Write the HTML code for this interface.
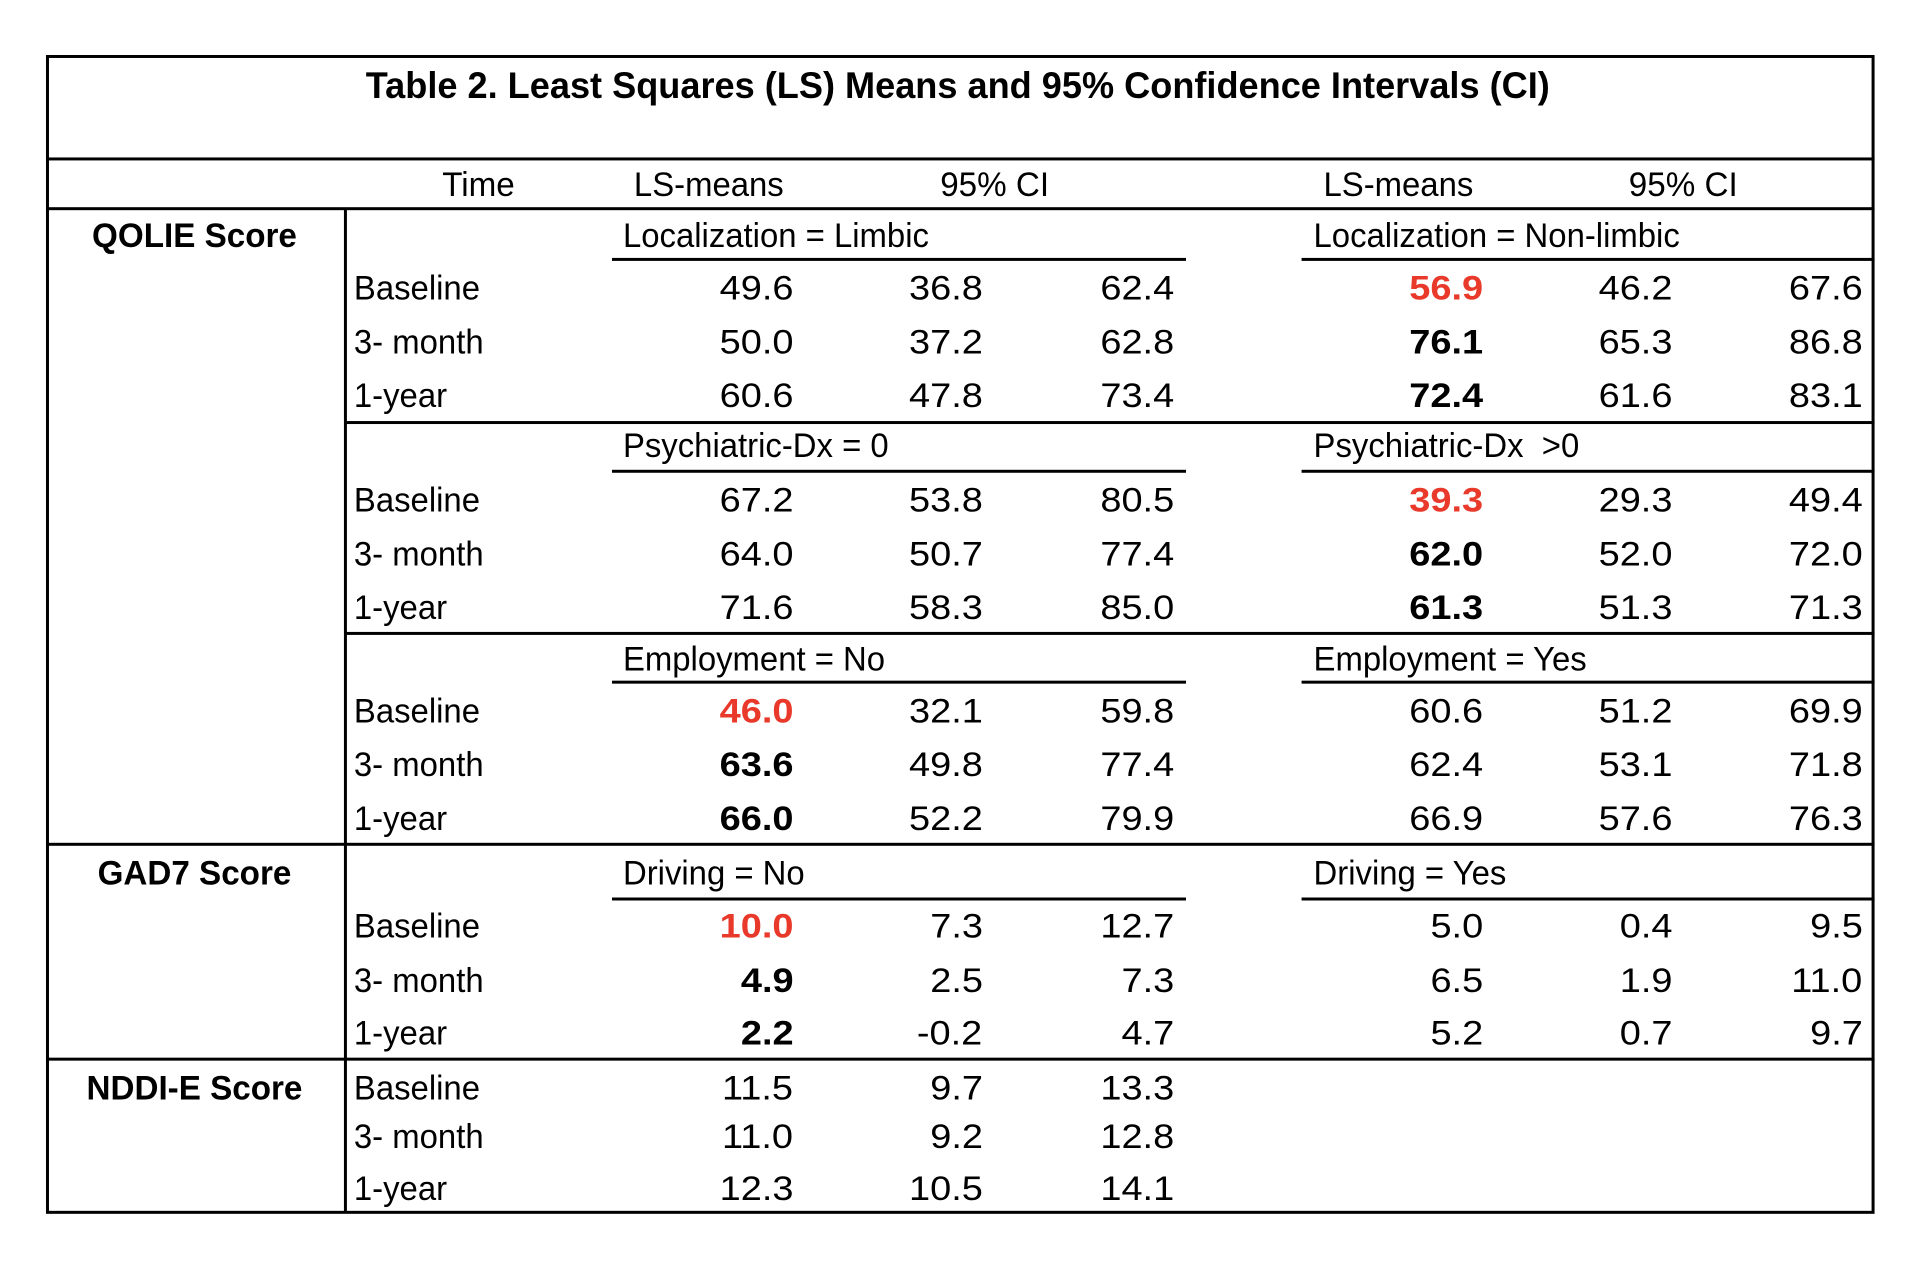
<!DOCTYPE html>
<html><head><meta charset="utf-8"><style>
body{margin:0;width:1922px;height:1266px;background:#fff;position:relative;overflow:hidden;font-family:"Liberation Sans",sans-serif;color:#000}
#w{position:absolute;left:0;top:0;width:1922px;height:1266px;transform:scale(.9965,.9947);transform-origin:42px 55px}
.h{position:absolute;height:3px;background:#000}
.v{position:absolute;width:3px;background:#000}
.t{position:absolute;height:40px;line-height:40px;font-size:34px;white-space:nowrap}
.l{transform:scaleX(.97);transform-origin:left center}
.r{text-align:right;transform:scaleX(1.12);transform-origin:right center}
.c{transform:translateX(-50%) scaleX(.98)}
.b{font-weight:bold}
.red{color:#e8392a;font-weight:bold}
</style></head><body><div id="w">
<div style="position:absolute;left:46px;top:55px;width:1829px;height:1159px;border:3px solid #000"></div>
<div class="h" style="left:46px;width:1835px;top:158px"></div>
<div class="h" style="left:46px;width:1835px;top:208px"></div>
<div class="h" style="left:346px;width:1535px;top:423px"></div>
<div class="h" style="left:346px;width:1535px;top:635px"></div>
<div class="h" style="left:46px;width:1835px;top:847px"></div>
<div class="h" style="left:46px;width:1835px;top:1063px"></div>
<div class="v" style="left:345px;top:209px;height:1010px"></div>
<div class="h" style="left:614px;width:576px;top:259px"></div><div class="h" style="left:1306px;width:575px;top:259px"></div>
<div class="h" style="left:614px;width:576px;top:472px"></div><div class="h" style="left:1306px;width:575px;top:472px"></div>
<div class="h" style="left:614px;width:576px;top:684px"></div><div class="h" style="left:1306px;width:575px;top:684px"></div>
<div class="h" style="left:614px;width:576px;top:902px"></div><div class="h" style="left:1306px;width:575px;top:902px"></div>

<div class="t b" style="left:961px;top:66px;font-size:37px;transform:translateX(-50%) scaleX(.98)">Table 2. Least Squares (LS) Means and 95% Confidence Intervals (CI)</div>
<div class="t c" style="left:480px;top:166px">Time</div>
<div class="t l" style="left:636px;top:166px">LS-means</div>
<div class="t c" style="left:998px;top:166px">95% CI</div>
<div class="t l" style="left:1328px;top:166px">LS-means</div>
<div class="t c" style="left:1689px;top:166px">95% CI</div>

<div class="t b c" style="left:195px;top:217px">QOLIE Score</div>
<div class="t b c" style="left:195px;top:858px">GAD7 Score</div>
<div class="t b c" style="left:195px;top:1074px">NDDI-E Score</div>

<div class="t l" style="left:625px;top:217px">Localization = Limbic</div>
<div class="t l" style="left:1318px;top:217px">Localization = Non-limbic</div>
<div class="t l" style="left:625px;top:428px">Psychiatric-Dx = 0</div>
<div class="t l" style="left:1318px;top:428px">Psychiatric-Dx &nbsp;&gt;0</div>
<div class="t l" style="left:625px;top:643px">Employment = No</div>
<div class="t l" style="left:1318px;top:643px">Employment = Yes</div>
<div class="t l" style="left:625px;top:858px">Driving = No</div>
<div class="t l" style="left:1318px;top:858px">Driving = Yes</div>

<div class="t l" style="left:355px;top:270px">Baseline</div>
<div class="t l" style="left:355px;top:324px">3- month</div>
<div class="t l" style="left:355px;top:378px">1-year</div>
<div class="t l" style="left:355px;top:483px">Baseline</div>
<div class="t l" style="left:355px;top:537px">3- month</div>
<div class="t l" style="left:355px;top:591px">1-year</div>
<div class="t l" style="left:355px;top:695px">Baseline</div>
<div class="t l" style="left:355px;top:749px">3- month</div>
<div class="t l" style="left:355px;top:803px">1-year</div>
<div class="t l" style="left:355px;top:911px">Baseline</div>
<div class="t l" style="left:355px;top:966px">3- month</div>
<div class="t l" style="left:355px;top:1019px">1-year</div>
<div class="t l" style="left:355px;top:1074px">Baseline</div>
<div class="t l" style="left:355px;top:1123px">3- month</div>
<div class="t l" style="left:355px;top:1175px">1-year</div>

<div class="t r" style="right:1126px;top:270px">49.6</div><div class="t r" style="right:936px;top:270px">36.8</div><div class="t r" style="right:744px;top:270px">62.4</div>
<div class="t r red" style="right:434px;top:270px">56.9</div><div class="t r" style="right:244px;top:270px">46.2</div><div class="t r" style="right:53px;top:270px">67.6</div>
<div class="t r" style="right:1126px;top:324px">50.0</div><div class="t r" style="right:936px;top:324px">37.2</div><div class="t r" style="right:744px;top:324px">62.8</div>
<div class="t r b" style="right:434px;top:324px">76.1</div><div class="t r" style="right:244px;top:324px">65.3</div><div class="t r" style="right:53px;top:324px">86.8</div>
<div class="t r" style="right:1126px;top:378px">60.6</div><div class="t r" style="right:936px;top:378px">47.8</div><div class="t r" style="right:744px;top:378px">73.4</div>
<div class="t r b" style="right:434px;top:378px">72.4</div><div class="t r" style="right:244px;top:378px">61.6</div><div class="t r" style="right:53px;top:378px">83.1</div>

<div class="t r" style="right:1126px;top:483px">67.2</div><div class="t r" style="right:936px;top:483px">53.8</div><div class="t r" style="right:744px;top:483px">80.5</div>
<div class="t r red" style="right:434px;top:483px">39.3</div><div class="t r" style="right:244px;top:483px">29.3</div><div class="t r" style="right:53px;top:483px">49.4</div>
<div class="t r" style="right:1126px;top:537px">64.0</div><div class="t r" style="right:936px;top:537px">50.7</div><div class="t r" style="right:744px;top:537px">77.4</div>
<div class="t r b" style="right:434px;top:537px">62.0</div><div class="t r" style="right:244px;top:537px">52.0</div><div class="t r" style="right:53px;top:537px">72.0</div>
<div class="t r" style="right:1126px;top:591px">71.6</div><div class="t r" style="right:936px;top:591px">58.3</div><div class="t r" style="right:744px;top:591px">85.0</div>
<div class="t r b" style="right:434px;top:591px">61.3</div><div class="t r" style="right:244px;top:591px">51.3</div><div class="t r" style="right:53px;top:591px">71.3</div>

<div class="t r red" style="right:1126px;top:695px">46.0</div><div class="t r" style="right:936px;top:695px">32.1</div><div class="t r" style="right:744px;top:695px">59.8</div>
<div class="t r" style="right:434px;top:695px">60.6</div><div class="t r" style="right:244px;top:695px">51.2</div><div class="t r" style="right:53px;top:695px">69.9</div>
<div class="t r b" style="right:1126px;top:749px">63.6</div><div class="t r" style="right:936px;top:749px">49.8</div><div class="t r" style="right:744px;top:749px">77.4</div>
<div class="t r" style="right:434px;top:749px">62.4</div><div class="t r" style="right:244px;top:749px">53.1</div><div class="t r" style="right:53px;top:749px">71.8</div>
<div class="t r b" style="right:1126px;top:803px">66.0</div><div class="t r" style="right:936px;top:803px">52.2</div><div class="t r" style="right:744px;top:803px">79.9</div>
<div class="t r" style="right:434px;top:803px">66.9</div><div class="t r" style="right:244px;top:803px">57.6</div><div class="t r" style="right:53px;top:803px">76.3</div>

<div class="t r red" style="right:1126px;top:911px">10.0</div><div class="t r" style="right:936px;top:911px">7.3</div><div class="t r" style="right:744px;top:911px">12.7</div>
<div class="t r" style="right:434px;top:911px">5.0</div><div class="t r" style="right:244px;top:911px">0.4</div><div class="t r" style="right:53px;top:911px">9.5</div>
<div class="t r b" style="right:1126px;top:966px">4.9</div><div class="t r" style="right:936px;top:966px">2.5</div><div class="t r" style="right:744px;top:966px">7.3</div>
<div class="t r" style="right:434px;top:966px">6.5</div><div class="t r" style="right:244px;top:966px">1.9</div><div class="t r" style="right:53px;top:966px">11.0</div>
<div class="t r b" style="right:1126px;top:1019px">2.2</div><div class="t r" style="right:936px;top:1019px">-0.2</div><div class="t r" style="right:744px;top:1019px">4.7</div>
<div class="t r" style="right:434px;top:1019px">5.2</div><div class="t r" style="right:244px;top:1019px">0.7</div><div class="t r" style="right:53px;top:1019px">9.7</div>

<div class="t r" style="right:1126px;top:1074px">11.5</div><div class="t r" style="right:936px;top:1074px">9.7</div><div class="t r" style="right:744px;top:1074px">13.3</div>
<div class="t r" style="right:1126px;top:1123px">11.0</div><div class="t r" style="right:936px;top:1123px">9.2</div><div class="t r" style="right:744px;top:1123px">12.8</div>
<div class="t r" style="right:1126px;top:1175px">12.3</div><div class="t r" style="right:936px;top:1175px">10.5</div><div class="t r" style="right:744px;top:1175px">14.1</div>
</div></body></html>
